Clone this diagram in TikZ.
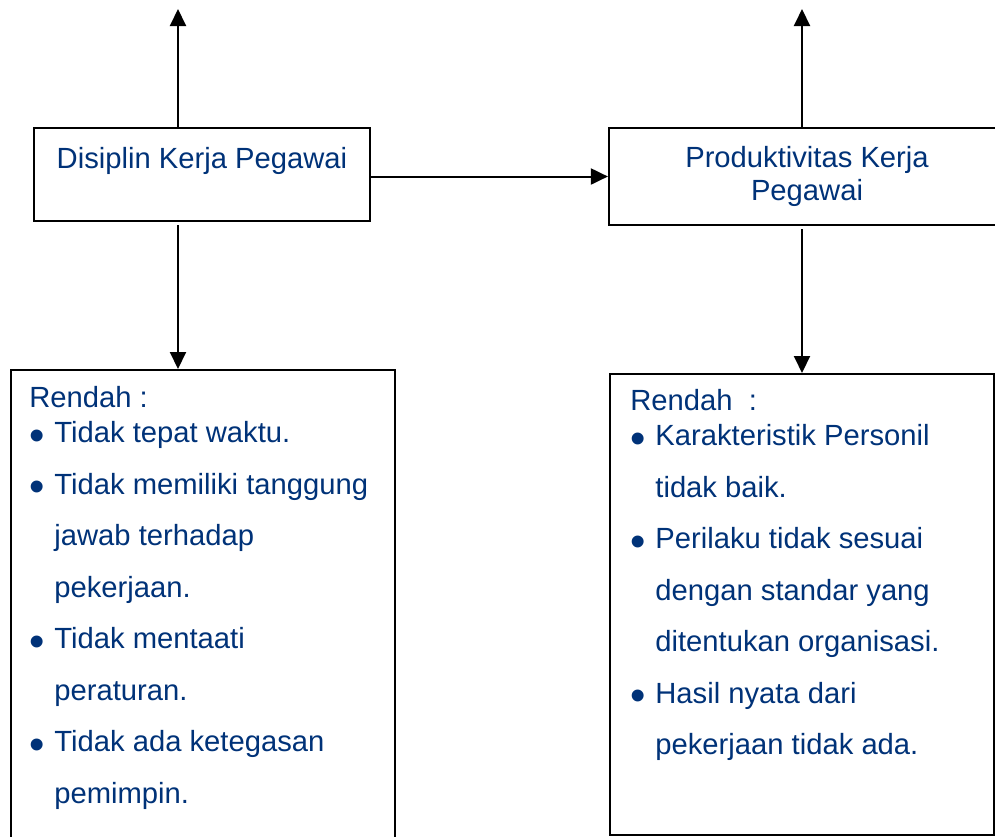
\documentclass[tikz,border=0pt]{standalone}
\usepackage{fontspec}
\setmainfont{Liberation Sans}
\usepackage{graphicx}
\usepackage{tikz}
\usetikzlibrary{arrows.meta}
\definecolor{biru}{RGB}{0,50,120}
\tikzstyle{kotak}=[draw, line width=1.1pt, inner sep=0pt, text=biru]
\tikzstyle{panah}=[line width=1pt, -{Triangle[length=8.5pt,width=8pt]}]
\tikzstyle{daftar}=[text=biru, align=left, inner sep=0pt, font=\fontsize{14.6}{25.75}\selectfont]
\newcommand{\butir}{\makebox[12.5pt][l]{\raisebox{-3.75pt}{\scalebox{1.5}{\textbullet}}}}
\newcommand{\lanjut}{\hspace*{12.5pt}}

\begin{document}
\begin{tikzpicture}[x=0.5pt,y=-0.5pt]
  \useasboundingbox (0,0) rectangle (995,836);
  % Kotak atas
  \node[kotak, anchor=base, font=\fontsize{14.6}{16.5}\selectfont, minimum width=168pt, text height=20pt, text depth=26.5pt] (disiplin) at (202,168) {Disiplin Kerja Pegawai};
  \node[kotak, anchor=base, font=\fontsize{14.6}{16.5}\selectfont, minimum width=198pt, text height=19.5pt, text depth=29pt] (produktivitas) at (807,167) {\begin{tabular}[t]{@{}c@{}}Produktivitas Kerja\\Pegawai\end{tabular}};
  % Kotak bawah
  \node[kotak, anchor=north west, minimum width=192pt, minimum height=238pt] (rendahA) at (10,369) {};
  \node[kotak, anchor=north west, minimum width=192pt, minimum height=230.5pt] (rendahB) at (609,373) {};
  % Isi kotak bawah
  \node[daftar, anchor=north west] (isiA) at (29,386) {Rendah :\\[-8.25pt]
    \butir Tidak tepat waktu.\\
    \butir Tidak memiliki tanggung\\
    \lanjut jawab terhadap\\
    \lanjut pekerjaan.\\
    \butir Tidak mentaati\\
    \lanjut peraturan.\\
    \butir Tidak ada ketegasan\\
    \lanjut pemimpin.};
  \node[daftar, anchor=north west] (isiB) at (630,389) {Rendah~~:\\[-8.25pt]
    \butir Karakteristik Personil\\
    \lanjut tidak baik.\\
    \butir Perilaku tidak sesuai\\
    \lanjut dengan standar yang\\
    \lanjut ditentukan organisasi.\\
    \butir Hasil nyata dari\\
    \lanjut pekerjaan tidak ada.};
  % Panah
  \coordinate (ujungA) at (178,9);
  \coordinate (ujungB) at (802,9);
  \draw[panah] (disiplin.north -| ujungA) -- (ujungA);
  \draw[panah] (produktivitas.north -| ujungB) -- (ujungB);
  \draw[panah, shorten <=1.5pt] (disiplin.south -| ujungA) -- (rendahA.north -| ujungA);
  \draw[panah, shorten <=1.5pt] (produktivitas.south -| ujungB) -- (rendahB.north -| ujungB);
  \draw[panah] (produktivitas.west -| disiplin.east) -- (produktivitas.west);
\end{tikzpicture}
\end{document}
